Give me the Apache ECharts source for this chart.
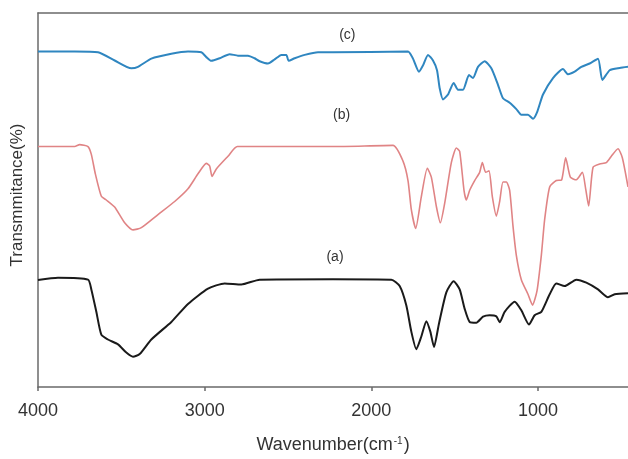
<!DOCTYPE html>
<html>
<head>
<meta charset="utf-8">
<script src="https://cdn.jsdelivr.net/npm/echarts@6/dist/echarts.min.js"></script>
<style>
html,body{margin:0;padding:0;background:#fff;}
#chart{width:628px;height:459px;}
</style>
</head>
<body>
<div id="chart"></div>
<script>
// x tick labels
var xTicks = [4000, 3000, 2000, 1000];

// (c) blue
var cWn = [4000,3780,3640,3540,3440,3400,3320,3200,3100,3020,2990,2960,2910,2850,2800,2740,2700,2670,2620,2580,2540,2510,2496,2460,2400,2320,2230,1780,1750,1714,1690,1660,1630,1606,1590,1570,1540,1506,1480,1450,1414,1390,1360,1320,1280,1240,1210,1170,1130,1100,1060,1030,1006,970,910,850,820,780,740,690,640,614,570,510,460];
var cT  = [89.7,89.7,89.5,87.3,85.2,85.6,87.8,89.1,89.7,89.5,88.2,87.2,87.9,89.0,88.6,88.6,87.9,87.1,86.5,87.6,88.8,88.8,87.2,87.9,88.8,89.5,89.5,89.7,87.8,84.3,86.0,88.8,87.3,84.7,79.9,76.9,78.2,81.3,79.5,79.5,83.4,82.6,85.6,87.1,85.2,80.8,77.2,76.0,74.3,72.8,72.8,71.7,73.4,78.2,82.6,85.0,83.6,84.3,85.6,86.5,87.8,82.1,84.7,85.3,85.6];

// (b) pink
var bWn = [4000,3780,3750,3700,3680,3656,3620,3590,3540,3480,3430,3380,3280,3180,3100,3040,2990,2970,2956,2930,2860,2804,2230,1870,1810,1780,1760,1734,1700,1664,1640,1610,1586,1560,1520,1490,1470,1444,1430,1410,1380,1350,1334,1314,1294,1274,1250,1230,1210,1190,1170,1150,1130,1100,1060,1033,1006,980,960,930,890,858,834,806,770,734,714,696,670,630,590,560,520,494,460];
var bT  = [64.3,64.3,64.8,64.3,62.2,57.0,51.0,50.0,48.1,43.9,42.0,42.6,46.1,49.6,53.0,57.0,59.8,59.1,56.3,58.3,61.7,64.3,64.3,64.6,60.4,55.2,47.4,42.4,50.9,58.5,56.1,48.3,43.9,49.1,60.0,63.9,63.0,52.6,50.0,52.6,55.2,57.4,60.0,57.4,57.8,50.9,45.7,49.6,54.8,54.8,52.6,43.0,35.2,28.7,24.8,21.9,25.7,35.2,44.8,53.5,55.2,55.4,61.3,56.1,55.4,57.4,53.0,48.4,58.7,59.6,60.0,61.7,63.7,61.3,53.5];

// (a) black
var aWn = [4000,3880,3700,3680,3650,3620,3580,3520,3470,3430,3390,3320,3200,3100,2980,2880,2780,2670,2230,1880,1830,1790,1760,1730,1700,1670,1646,1624,1594,1550,1506,1470,1440,1410,1370,1330,1290,1250,1230,1200,1140,1100,1054,1020,980,930,890,840,770,710,640,580,540,460];
var aT  = [28.6,29.2,28.7,26.1,20.1,14.0,12.7,11.4,9.2,8.1,8.8,12.7,17.4,22.2,26.3,27.7,27.4,28.7,28.8,28.7,27.0,21.8,14.8,10.1,13.5,17.6,14.8,10.7,17.0,25.3,28.3,26.1,20.9,17.4,17.2,18.8,19.2,18.9,17.3,20.1,22.8,20.5,16.7,19.2,20.1,24.8,27.7,27.0,28.7,27.9,26.1,24.0,24.8,25.1];

// curve labels: [text, wavenumber, transmittance]
var curveLabels = [["(c)", 2144, 94.0], ["(b)", 2178, 72.6], ["(a)", 2218, 34.8]];

function zip(xs, ys){ return xs.map(function(x,i){ return [x, ys[i]]; }); }

var chart = echarts.init(document.getElementById('chart'), null, {renderer:'canvas'});
var axisColor = '#6a6a6a';
var font = 'Liberation Sans, Arial, sans-serif';
var option = {
  animation: false,
  backgroundColor: '#fff',
  grid: {left: 38, top: 13, right: 0, bottom: 62},
  xAxis: [{
    type: 'value', inverse: true, min: 460, max: 4000,
    axisLine: {show: true, lineStyle: {color: axisColor, width: 1.5}},
    axisTick: {show: true, length: 4, customValues: xTicks, lineStyle: {color: axisColor, width: 1.5}},
    axisLabel: {customValues: xTicks, color: '#333', fontSize: 18, fontFamily: font, margin: 15,
      formatter: function(v){ return String(v); }},
    splitLine: {show: false},
    name: 'Wavenumber(cm{sup|-1})',
    nameLocation: 'middle', nameGap: 49,
    nameTextStyle: {color: '#333', fontSize: 18, fontFamily: font,
      rich: {sup: {fontSize: 10, verticalAlign: 'top', color: '#333', padding: [0,1,8,1], fontFamily: font}}}
  }, {
    type: 'value', position: 'top', inverse: true, min: 460, max: 4000,
    axisLine: {show: true, lineStyle: {color: axisColor, width: 1.5}},
    axisTick: {show: false}, axisLabel: {show: false}, splitLine: {show: false}
  }],
  yAxis: {
    type: 'value', min: 0, max: 100,
    axisLine: {show: true, lineStyle: {color: axisColor, width: 1.5}},
    axisTick: {show: false}, axisLabel: {show: false}, splitLine: {show: false},
    name: 'Transmmitance(%)', nameLocation: 'middle', nameGap: 12,
    nameTextStyle: {color: '#333', fontSize: 17, fontFamily: font, padding: [0,0,0,10]}
  },
  series: [
    {type: 'line', name: '(c)', data: zip(cWn, cT), showSymbol: false, smooth: 0.2,
     lineStyle: {color: '#2f86c0', width: 2}, itemStyle: {color: '#2f86c0'}},
    {type: 'line', name: '(b)', data: zip(bWn, bT), showSymbol: false, smooth: 0.2,
     lineStyle: {color: '#e08485', width: 1.6}, itemStyle: {color: '#e08485'}},
    {type: 'line', name: '(a)', data: zip(aWn, aT), showSymbol: false, smooth: 0.2,
     lineStyle: {color: '#1a1a1a', width: 2}, itemStyle: {color: '#1a1a1a'},
     markPoint: {
       symbol: 'circle', symbolSize: 0, silent: true,
       label: {show: true, position: 'inside', color: '#333', fontSize: 14, fontFamily: font,
         formatter: function(p){ return p.name; }},
       data: curveLabels.map(function(l){ return {name: l[0], coord: [l[1], l[2]]}; })
     }}
  ]
};
chart.setOption(option);
</script>
</body>
</html>
